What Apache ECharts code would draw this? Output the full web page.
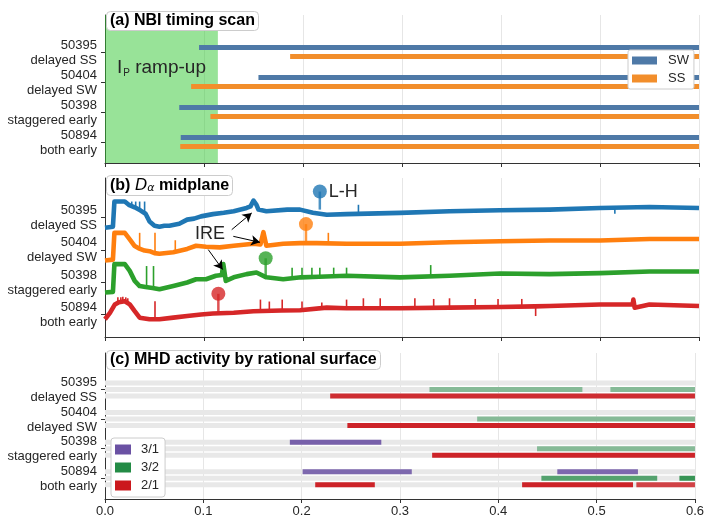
<!DOCTYPE html>
<html><head><meta charset="utf-8">
<script src="https://cdn.jsdelivr.net/npm/echarts@6/dist/echarts.min.js"></script>
<style>html,body{margin:0;padding:0;background:#fff}#c{width:707px;height:518px}</style>
</head><body><div id="c"></div>
<script>
// ---------- data ----------
const shotLabels = ['50395\ndelayed SS', '50404\ndelayed SW', '50398\nstaggered early', '50894\nboth early'];
const xTickValues = [0, 0.1, 0.2, 0.3, 0.4, 0.5, 0.6];
const rampUpEnd = 0.114;
const nbiEnd = 0.6;
const swStart = [0.095, 0.155, 0.075, 0.0765];
const ssStart = [0.187, 0.087, 0.1065, 0.076];

// D-alpha traces (baseline): [time, level above row baseline (row units)]
const traceBlue = [[0,-0.31],[0.008,-0.28],[0.0095,0.50],[0.020,0.50],[0.024,0.40],[0.030,0.32],[0.036,0.22],[0.041,0.12],[0.045,-0.12],[0.050,-0.25],[0.055,-0.28],[0.060,-0.25],[0.065,-0.25],[0.075,-0.19],[0.083,-0.06],[0.090,-0.03],[0.097,0.04],[0.109,0.11],[0.120,0.15],[0.130,0.20],[0.143,0.30],[0.147,0.35],[0.150,0.53],[0.153,0.40],[0.155,0.25],[0.163,0.20],[0.184,0.25],[0.197,0.25],[0.210,0.15],[0.224,0.09],[0.244,0.11],[0.298,0.15],[0.348,0.20],[0.399,0.23],[0.449,0.25],[0.500,0.30],[0.550,0.33],[0.600,0.30]];
const traceOrange = [[0,-0.33],[0.008,-0.30],[0.0095,0.53],[0.020,0.53],[0.025,0.33],[0.030,0.12],[0.034,0.05],[0.040,-0.02],[0.045,-0.04],[0.050,-0.10],[0.055,-0.12],[0.069,-0.07],[0.083,0.03],[0.092,0.13],[0.102,0.10],[0.116,0.08],[0.130,0.13],[0.150,0.19],[0.157,0.17],[0.160,0.55],[0.163,0.13],[0.180,0.19],[0.197,0.21],[0.214,0.21],[0.244,0.19],[0.298,0.19],[0.348,0.24],[0.399,0.27],[0.449,0.29],[0.500,0.29],[0.550,0.34],[0.600,0.34]];
const traceGreen = [[0,-0.32],[0.008,-0.30],[0.0095,0.56],[0.020,0.56],[0.025,0.35],[0.030,0.04],[0.035,-0.12],[0.041,-0.15],[0.048,-0.18],[0.055,-0.22],[0.069,-0.12],[0.083,-0.01],[0.092,0.09],[0.102,0.09],[0.112,0.20],[0.118,0.22],[0.1195,0.56],[0.122,0.04],[0.130,0.15],[0.143,0.25],[0.153,0.30],[0.163,0.15],[0.180,0.09],[0.198,0.15],[0.216,0.17],[0.244,0.20],[0.298,0.15],[0.348,0.20],[0.399,0.27],[0.449,0.25],[0.500,0.28],[0.550,0.33],[0.600,0.33]];
const traceRed = [[0,-0.15],[0.005,0.05],[0.010,0.31],[0.014,0.38],[0.020,0.41],[0.025,0.31],[0.030,0.10],[0.035,-0.10],[0.045,-0.15],[0.055,-0.15],[0.069,-0.10],[0.083,-0.05],[0.097,0.00],[0.109,0.03],[0.130,0.05],[0.150,0.10],[0.178,0.12],[0.197,0.13],[0.224,0.21],[0.244,0.19],[0.298,0.19],[0.348,0.21],[0.399,0.23],[0.434,0.25],[0.449,0.26],[0.500,0.31],[0.533,0.31],[0.5337,0.46],[0.535,0.21],[0.550,0.31],[0.600,0.26]];

// narrow spikes: [time, from level, to level]
const spikesBlue = [[0.027,0.35,0.50],[0.031,0.30,0.50],[0.035,0.25,0.50],[0.040,0.15,0.50],[0.256,0.12,0.40],[0.515,0.30,0.12]];
const spikesOrange = [[0.035,0.05,0.53],[0.0505,-0.10,0.53],[0.071,-0.07,0.30],[0.2256,0.21,0.53]];
const spikesGreen = [[0.042,-0.15,0.50],[0.049,-0.18,0.50],[0.189,0.12,0.45],[0.199,0.15,0.45],[0.209,0.16,0.45],[0.217,0.17,0.45],[0.231,0.20,0.45],[0.244,0.20,0.45],[0.329,0.17,0.53]];
const spikesRed = [[0.013,0.35,0.53],[0.016,0.38,0.53],[0.018,0.40,0.55],[0.021,0.40,0.53],[0.023,0.35,0.50],[0.0505,-0.15,0.41],[0.157,0.10,0.46],[0.166,0.10,0.40],[0.179,0.12,0.46],[0.199,0.13,0.40],[0.219,0.18,0.37],[0.244,0.19,0.46],[0.261,0.19,0.50],[0.278,0.19,0.50],[0.313,0.20,0.50],[0.332,0.21,0.48],[0.348,0.21,0.50],[0.374,0.22,0.48],[0.397,0.23,0.48],[0.421,0.24,0.48],[0.435,0.25,-0.05]];

// L-H transition pins: time, circle level, stem base level
const pinTime = [0.217, 0.203, 0.1623, 0.1145];
const pinTop = [0.81, 0.80, 0.74, 0.64];
const pinBase = [0.25, 0.25, 0.15, 0.06];

// MHD activity: [shot index, start, end, strength(opacity)]
const mode31 = [[2,0.188,0.281,0.9],[3,0.201,0.312,0.85],[3,0.460,0.542,0.85]];
const mode32 = [[0,0.330,0.4855,0.5],[0,0.514,0.6,0.5],[1,0.3785,0.6,0.5],[2,0.4394,0.6,0.5],[3,0.4438,0.5616,0.75],[3,0.5842,0.6,0.9]];
const mode21 = [[0,0.229,0.6,0.9],[1,0.2465,0.6,0.95],[2,0.3327,0.6,0.95],[3,0.2138,0.2744,0.95],[3,0.4242,0.537,0.95],[3,0.5404,0.6,0.8]];

// ---------- layout / style ----------
const FONT = 'Liberation Sans, Arial, Helvetica, sans-serif';
const TXT = '#262626';
const grids = [
  {left:105, top:15, width:594, height:148},
  {left:105, top:178, width:594, height:159},
  {left:105, top:353, width:594, height:150}
];
const yMin = -1.23, yMax = 3.7;
const shotIdx = [0,1,2,3];

function xAxisFor(k){
  return {gridIndex:k, type:'value', min:0, max:0.6, interval:0.1,
    axisLine:{show:true, onZero:false, lineStyle:{color:'#333', width:1}},
    axisTick:{show:true, length:4, lineStyle:{color:'#333'}},
    axisLabel:{show:k===2, formatter:v=>v.toFixed(1), fontSize:13, color:TXT, fontFamily:FONT, margin:6,
      showMinLabel:true, showMaxLabel:true, hideOverlap:false},
    splitLine:{show:true, lineStyle:{color:'#e6e6e6', width:1}}};
}
function yAxisFor(k){
  return {gridIndex:k, type:'value', inverse:true, min:yMin, max:yMax,
    axisLine:{show:true, onZero:false, lineStyle:{color:'#333', width:1}},
    axisTick:{show:true, length:4, customValues:shotIdx, lineStyle:{color:'#333'}},
    axisLabel:{show:false},
    splitLine:{show:false}};
}

function rangeSeries(name, k, data, color, off, hpx, extra){
  return Object.assign({
    name, type:'custom', xAxisIndex:k, yAxisIndex:k, color, itemStyle:{color},
    encode:{x:[1,2], y:0},
    data,
    renderItem:(params, api)=>{
      const row = api.value(0) + off;
      const s = api.coord([api.value(1), row]);
      const e = api.coord([api.value(2), row]);
      const op = api.value(3);
      return {type:'rect', shape:{x:s[0], y:s[1]-hpx/2, width:e[0]-s[0], height:hpx},
        style:{fill:color, opacity: (op===undefined||isNaN(op))?1:op}};
    }, z:3
  }, extra||{});
}

const traceColors = ['#1f77b4','#ff7f0e','#2ca02c','#d62728'];
const traces = [traceBlue, traceOrange, traceGreen, traceRed];
const spikes = [spikesBlue, spikesOrange, spikesGreen, spikesRed];

const series = [];
// shot labels on each panel's y axis
[0,1,2].forEach(k=>{
  series.push({type:'custom', xAxisIndex:k, yAxisIndex:k, silent:true, clip:false, z:10,
    encode:{x:0, y:1},
    data: shotIdx.map(i=>[0, i]),
    renderItem:(params, api)=>{
      const p = api.coord([0, api.value(1)]);
      return {type:'text', x:p[0]-8, y:p[1]+0.5, style:{text:shotLabels[api.value(1)], fontSize:13, lineHeight:15,
        fontFamily:FONT, fill:TXT, align:'right', verticalAlign:'middle'}};
    }});
});
// Panel (a)
series.push({type:'custom', xAxisIndex:0, yAxisIndex:0, silent:true, z:1,
  data:[[0, rampUpEnd]],
  renderItem:(params, api)=>{
    const a = api.coord([api.value(0), yMin]);
    const b = api.coord([api.value(1), yMax]);
    const g = params.coordSys;
    return {type:'group', children:[
      {type:'rect', shape:{x:a[0], y:g.y, width:b[0]-a[0], height:g.height}, style:{fill:'rgba(50,200,50,0.5)'}},
      {type:'text', x:a[0]+12, y:g.y+53, style:{
        text:'{i|I}{p|P}{r| ramp-up}', fontFamily:FONT, verticalAlign:'middle',
        rich:{i:{fontSize:19, fontFamily:FONT, fill:TXT}, p:{fontSize:10, fontFamily:FONT, fill:TXT, padding:[10,0,0,1]}, r:{fontSize:19, fontFamily:FONT, fill:TXT}}}}
    ]};
  }});
series.push(rangeSeries('SW', 0, shotIdx.map(i=>[i, swStart[i], nbiEnd, 1]), '#4e79a7', -0.15, 5));
series.push(rangeSeries('SS', 0, shotIdx.map(i=>[i, ssStart[i], nbiEnd, 1]), '#f28e2b', 0.15, 5));

// Panel (b) traces
traces.forEach((tr, i)=>{
  const data = tr.map(p=>[p[0], i - p[1]]);
  const core = {type:'line', xAxisIndex:1, yAxisIndex:1, showSymbol:false, silent:true, z:3,
    data, lineStyle:{color:traceColors[i], width:4.6, join:'round'}, itemStyle:{color:traceColors[i]}};
  if(i===0){
    core.markLine = {silent:true, symbol:['none','arrow'], symbolSize:[8,9], label:{show:false},
      lineStyle:{color:'#000', width:1, type:'solid'},
      data:[
        [{coord:[0.1280,0.372]},{coord:[0.1482,-0.146]}],
        [{coord:[0.1296,0.579]},{coord:[0.1566,0.765]}],
        [{coord:[0.1043,0.991]},{coord:[0.1189,1.61]}]
      ]};
  }
  series.push(core);
  series.push({type:'custom', xAxisIndex:1, yAxisIndex:1, silent:true, z:3,
    encode:{x:0, y:[1,2]},
    data: spikes[i].map(s=>[s[0], i - s[1], i - s[2]]),
    renderItem:(params, api)=>{
      const a = api.coord([api.value(0), api.value(1)]);
      const b = api.coord([api.value(0), api.value(2)]);
      return {type:'line', shape:{x1:a[0], y1:a[1], x2:b[0], y2:b[1]}, style:{stroke:traceColors[i], lineWidth:1.6}};
    }});
});
// pins
series.push({type:'custom', xAxisIndex:1, yAxisIndex:1, silent:true, z:5,
  data: shotIdx.map(i=>[pinTime[i], i - pinTop[i], i - pinBase[i], i]),
  renderItem:(params, api)=>{
    const i = api.value(3);
    const top = api.coord([api.value(0), api.value(1)]);
    const base = api.coord([api.value(0), api.value(2)]);
    const c = traceColors[i];
    const ch = [
      {type:'line', shape:{x1:top[0], y1:top[1], x2:base[0], y2:base[1]}, style:{stroke:c, lineWidth:2.5, opacity:0.8}},
      {type:'circle', shape:{cx:top[0], cy:top[1], r:7}, style:{fill:c, opacity:0.8}}
    ];
    if(i===0){
      ch.push({type:'text', x:top[0]+9, y:top[1], style:{text:'L-H', fontSize:18, fontFamily:FONT, fill:TXT, verticalAlign:'middle'}});
    }
    return {type:'group', children:ch};
  }});
// IRE label
series.push({type:'custom', xAxisIndex:1, yAxisIndex:1, silent:true, z:6,
  data:[[0.106, 0.495]],
  renderItem:(params, api)=>{
    const p = api.coord([api.value(0), api.value(1)]);
    return {type:'text', x:p[0], y:p[1], style:{text:'IRE', fontSize:18, fontFamily:FONT, fill:TXT, align:'center', verticalAlign:'middle'}};
  }});

// Panel (c)
const bgRows = [];
shotIdx.forEach(i=>{ [-0.22,0,0.22].forEach(o=>bgRows.push([i+o, 0, 0.6, 1])); });
series.push(rangeSeries('bg', 2, bgRows, '#e8e8e8', 0, 5, {z:2, silent:true}));
series.push(rangeSeries('3/1', 2, mode31.map(m=>[m[0], m[1], m[2], m[3]]), '#6a51a3', -0.22, 5));
series.push(rangeSeries('3/2', 2, mode32.map(m=>[m[0], m[1], m[2], m[3]]), '#238b45', 0, 5));
series.push(rangeSeries('2/1', 2, mode21.map(m=>[m[0], m[1], m[2], m[3]]), '#cb181d', 0.22, 5));

const titleBox = {borderColor:'#cccccc', borderWidth:1, borderRadius:4, backgroundColor:'#fff', padding:[2,4,2,4]};
const option = {
  animation:false,
  textStyle:{fontFamily:FONT},
  grid: grids,
  xAxis: [0,1,2].map(xAxisFor),
  yAxis: [0,1,2].map(yAxisFor),
  title: [
    Object.assign({text:'(a) NBI timing scan', left:106, top:11, textStyle:{fontSize:16, fontWeight:'bold', color:'#000', fontFamily:FONT}}, titleBox),
    Object.assign({text:'(b) {i|D}{s|α} midplane', left:106, top:175, textStyle:{fontSize:16, fontWeight:'bold', color:'#000', fontFamily:FONT,
      rich:{i:{fontSize:16, fontStyle:'italic', fontWeight:'normal', fontFamily:'DejaVu Sans', color:'#000'}, s:{fontSize:11, fontStyle:'italic', fontWeight:'normal', fontFamily:'DejaVu Sans', color:'#000', padding:[6,0,0,0]}}}}, titleBox),
    Object.assign({text:'(c) MHD activity by rational surface', left:106, top:350, textStyle:{fontSize:16, fontWeight:'bold', color:'#000', fontFamily:FONT}}, titleBox)
  ],
  legend: [
    {data:['SW','SS'], left:628, top:50, orient:'vertical', itemWidth:25, itemHeight:8, itemGap:5, icon:'rect',
      padding:[4,5,4,4], backgroundColor:'#fff', borderColor:'#cccccc', borderWidth:1, borderRadius:2,
      textStyle:{fontSize:13, color:TXT, fontFamily:FONT, padding:[0,0,0,6]}, selectedMode:false},
    {data:['3/1','3/2','2/1'], left:111, top:438, orient:'vertical', itemWidth:16, itemHeight:10, itemGap:5, icon:'rect',
      padding:[5,6,5,4], backgroundColor:'#fff', borderColor:'#cccccc', borderWidth:1, borderRadius:3,
      textStyle:{fontSize:13, color:TXT, fontFamily:FONT, padding:[0,0,0,5]}, selectedMode:false}
  ],
  series
};
const chart = echarts.init(document.getElementById('c'), null, {renderer:'canvas'});
chart.setOption(option);
</script>
</body></html>
